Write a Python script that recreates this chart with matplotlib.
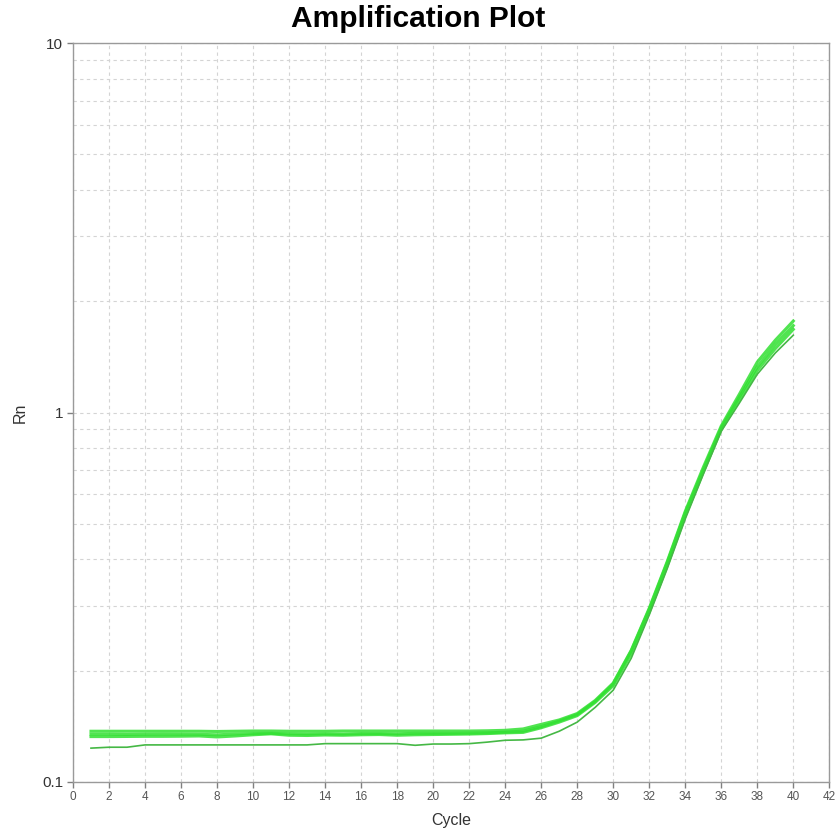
"""
Amplification plot (qPCR) - Rn vs cycle, log scale
"""
import matplotlib
matplotlib.use("Agg")
import matplotlib.pyplot as plt
from matplotlib.ticker import FixedLocator, FuncFormatter, NullFormatter, LogLocator

plt.rcParams["font.family"] = ["Liberation Sans", "DejaVu Sans"]

cycles = list(range(1, 41))

# well traces (Rn)
rn_a = [0.1370, 0.1370, 0.1370, 0.1370, 0.1370, 0.1370, 0.1370, 0.1368, 0.1370, 0.1372,
        0.1372, 0.1370, 0.1370, 0.1370, 0.1372, 0.1372, 0.1372, 0.1372, 0.1372, 0.1372,
        0.1372, 0.1372, 0.1374, 0.1378, 0.1390, 0.1430, 0.1470, 0.1530, 0.1660, 0.1850,
        0.2270, 0.2950, 0.3950, 0.5400, 0.7100, 0.9200, 1.1200, 1.3700, 1.5700, 1.7700]
rn_b = [0.1345, 0.1345, 0.1343, 0.1345, 0.1346, 0.1345, 0.1344, 0.1340, 0.1346, 0.1350,
        0.1352, 0.1348, 0.1346, 0.1348, 0.1346, 0.1350, 0.1350, 0.1348, 0.1352, 0.1352,
        0.1352, 0.1354, 0.1356, 0.1362, 0.1370, 0.1410, 0.1460, 0.1520, 0.1650, 0.1840,
        0.2260, 0.2930, 0.3920, 0.5350, 0.7000, 0.9100, 1.1000, 1.3300, 1.5300, 1.7200]
rn_c = [0.1325, 0.1325, 0.1326, 0.1327, 0.1327, 0.1328, 0.1330, 0.1322, 0.1330, 0.1340,
        0.1348, 0.1336, 0.1334, 0.1338, 0.1336, 0.1340, 0.1342, 0.1336, 0.1340, 0.1342,
        0.1344, 0.1346, 0.1350, 0.1356, 0.1360, 0.1400, 0.1450, 0.1510, 0.1640, 0.1820,
        0.2220, 0.2880, 0.3850, 0.5250, 0.6900, 0.9000, 1.0800, 1.3000, 1.4900, 1.6800]
rn_d = [0.1233, 0.1240, 0.1240, 0.1258, 0.1258, 0.1258, 0.1258, 0.1258, 0.1258, 0.1258,
        0.1258, 0.1258, 0.1258, 0.1268, 0.1268, 0.1268, 0.1268, 0.1268, 0.1255, 0.1265,
        0.1265, 0.1268, 0.1280, 0.1295, 0.1298, 0.1312, 0.1370, 0.1450, 0.1590, 0.1770,
        0.2160, 0.2830, 0.3780, 0.5150, 0.6800, 0.8900, 1.0600, 1.2700, 1.4500, 1.6200]

x_ticks = list(range(0, 43, 2))
y_ticks = [0.1, 1, 10]

fig = plt.figure(figsize=(8.36, 8.34), dpi=100)
ax = fig.add_axes([0.0873, 0.0627, 0.9047, 0.8853])

for rn in (rn_a, rn_b, rn_c):
    ax.plot(cycles, rn, color="#33e033", lw=2.2, alpha=0.85, solid_joinstyle="round")
ax.plot(cycles, rn_d, color="#45b845", lw=1.2)

ax.set_yscale("log")
ax.set_xlim(0, 42)
ax.set_ylim(0.1, 10)
ax.xaxis.set_major_locator(FixedLocator(x_ticks))
ax.yaxis.set_major_locator(FixedLocator(y_ticks))
ax.yaxis.set_major_formatter(FuncFormatter(lambda v, p: f"{v:g}"))
ax.yaxis.set_minor_locator(LogLocator(base=10, subs=range(2, 10)))
ax.yaxis.set_minor_formatter(NullFormatter())

grid_kw = dict(color="#d4d4d4", lw=0.8, ls=(0, (3, 3)))
ax.grid(True, axis="x", which="major", **grid_kw)
ax.grid(True, axis="y", which="both", **grid_kw)
ax.set_axisbelow(True)

for s in ax.spines.values():
    s.set_color("#9a9a9a")
    s.set_linewidth(1.0)
ax.tick_params(axis="both", which="major", color="#808080", length=4, width=1)
ax.tick_params(axis="x", labelsize=8.5, labelcolor="#555555", pad=3)
ax.tick_params(axis="y", labelsize=11, labelcolor="#333333", pad=3)
ax.tick_params(axis="y", which="minor", length=0)

ax.set_xlabel("Cycle", fontsize=11.5, color="#333333", labelpad=7)
ax.set_ylabel("Rn", fontsize=11.5, color="#333333", labelpad=10)
fig.text(0.5, 0.977, "Amplification Plot", fontsize=21.5, fontweight="bold",
         ha="center", va="center")

plt.savefig("out.png", dpi=100)
plt.close()
